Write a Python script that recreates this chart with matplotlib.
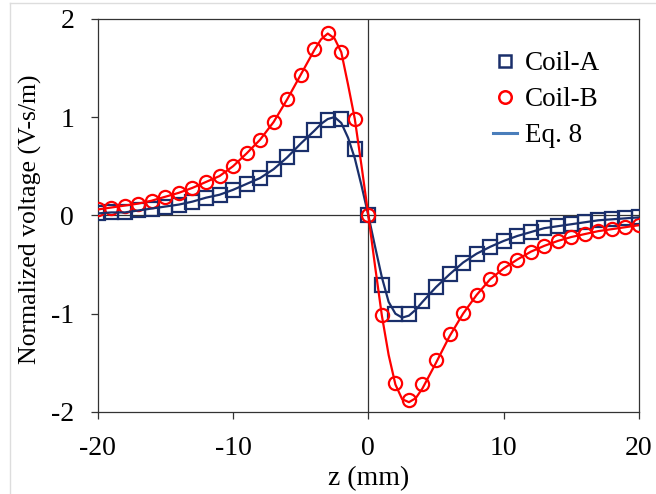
import matplotlib
matplotlib.use("Agg")
import matplotlib.pyplot as plt
from matplotlib.lines import Line2D

#-- Data ----------------------------------------------------
z = list(range(-20, 21))
coil_a = [0.02, 0.03, 0.03, 0.05, 0.07, 0.09, 0.11, 0.14, 0.18, 0.21,
          0.26, 0.32, 0.38, 0.47, 0.59, 0.73, 0.87, 0.97, 0.98, 0.68,
          0.0,
          -0.71, -1.00, -1.00, -0.87, -0.73, -0.60, -0.48, -0.39, -0.32, -0.26,
          -0.21, -0.17, -0.13, -0.11, -0.09, -0.07, -0.05, -0.04, -0.03, -0.02]
coil_b = [0.06, 0.08, 0.10, 0.12, 0.15, 0.19, 0.23, 0.28, 0.34, 0.40,
          0.50, 0.63, 0.77, 0.95, 1.18, 1.43, 1.69, 1.86, 1.66, 0.98,
          0.0,
          -1.01, -1.70, -1.88, -1.72, -1.47, -1.21, -0.99, -0.81, -0.65, -0.54,
          -0.45, -0.37, -0.31, -0.26, -0.22, -0.19, -0.16, -0.14, -0.12, -0.10]

# Eq. 8 curves, read at finer steps near the centre
eq8_z = [-20, -19, -18, -17, -16, -15, -14, -13, -12, -11, -10, -9, -8, -7, -6, -5,
         -4, -3.5, -3, -2.5, -2, -1.5, -1, -0.5, 0, 0.5, 1, 1.5, 2, 2.5, 3, 3.5, 4,
         5, 6, 7, 8, 9, 10, 11, 12, 13, 14, 15, 16, 17, 18, 19, 20]
eq8_a = [0.02, 0.03, 0.03, 0.05, 0.07, 0.09, 0.11, 0.14, 0.18, 0.21, 0.26, 0.32, 0.38,
         0.47, 0.59, 0.73,
         0.86, 0.93, 0.98, 1.00, 0.94, 0.79, 0.58, 0.30, 0.0,
         -0.32, -0.63, -0.88, -1.00, -1.04, -1.02, -0.96, -0.88,
         -0.73, -0.60, -0.48, -0.39, -0.32, -0.26, -0.21, -0.17, -0.13, -0.11,
         -0.09, -0.07, -0.05, -0.04, -0.03, -0.02]
eq8_b = [0.06, 0.08, 0.10, 0.12, 0.15, 0.19, 0.23, 0.28, 0.34, 0.40, 0.50, 0.63, 0.77,
         0.95, 1.18, 1.43,
         1.68, 1.79, 1.85, 1.80, 1.66, 1.33, 0.98, 0.50, 0.0,
         -0.52, -1.02, -1.42, -1.72, -1.87, -1.90, -1.86, -1.76,
         -1.50, -1.23, -1.00, -0.81, -0.65, -0.54, -0.45, -0.37, -0.31, -0.26,
         -0.22, -0.19, -0.16, -0.14, -0.12, -0.10]

navy = "#1a2f6b"
red = "#ff0000"

#-- Plot ------------------------------------------------------
plt.rcParams['font.family'] = ['Liberation Serif', 'DejaVu Serif']
plt.rcParams['axes.unicode_minus'] = False
plt.rcParams['font.size'] = 20

fig = plt.figure(figsize=(6.56, 4.94), dpi=100)
ax = fig.add_axes([0.149, 0.166, 0.825, 0.796])

ax.axhline(0, color="#333333", lw=0.9, zorder=1)
ax.axvline(0, color="#333333", lw=0.9, zorder=1)

ax.plot(z, coil_a, ls="none", marker="s", ms=9.5, mfc="none", mec=navy, mew=1.6, zorder=3)
ax.plot(z, coil_b, ls="none", marker="o", ms=9.5, mfc="none", mec=red, mew=1.6, zorder=4)
ax.plot(eq8_z, eq8_a, color=navy, lw=1.6, zorder=5)
ax.plot(eq8_z, eq8_b, color=red, lw=1.6, zorder=6)

ax.set_xlim(-20, 20)
ax.set_ylim(-2, 2)
ax.set_xticks([-20, -10, 0, 10, 20])
ax.set_yticks([-2, -1, 0, 1, 2])
ax.tick_params(direction="out", length=5, width=0.9, color="#333333")
ax.tick_params(axis="y", pad=12)
ax.tick_params(axis="x", pad=12)
for s in ax.spines.values():
    s.set_color("#333333")
    s.set_linewidth(0.9)

ax.set_xlabel("z (mm)", labelpad=4)
ax.set_ylabel("Normalized voltage (V-s/m)", fontsize=18.5, labelpad=5)
ax.yaxis.set_label_coords(-0.103, 0.49)

handles = [
    Line2D([], [], ls="none", marker="s", ms=9, mfc="none", mec=navy, mew=1.8),
    Line2D([], [], ls="none", marker="o", ms=9, mfc="none", mec=red, mew=1.8),
    Line2D([], [], color="#4a7ebb", lw=2.2),
]
ax.legend(handles, ["Coil-A", "Coil-B", "Eq. 8"], loc="upper left",
          bbox_to_anchor=(0.73, 0.917), frameon=False, borderpad=0, fontsize=19.5,
          borderaxespad=0, handlelength=0.9, handletextpad=0.3, labelspacing=0.4)

# light screenshot border
fig.add_artist(Line2D([10 / 656, 1], [1 - 3 / 494] * 2, color="#dddddd", lw=1))
fig.add_artist(Line2D([10 / 656] * 2, [0, 1 - 3 / 494], color="#dddddd", lw=1))

fig.savefig("out.png", dpi=100)
